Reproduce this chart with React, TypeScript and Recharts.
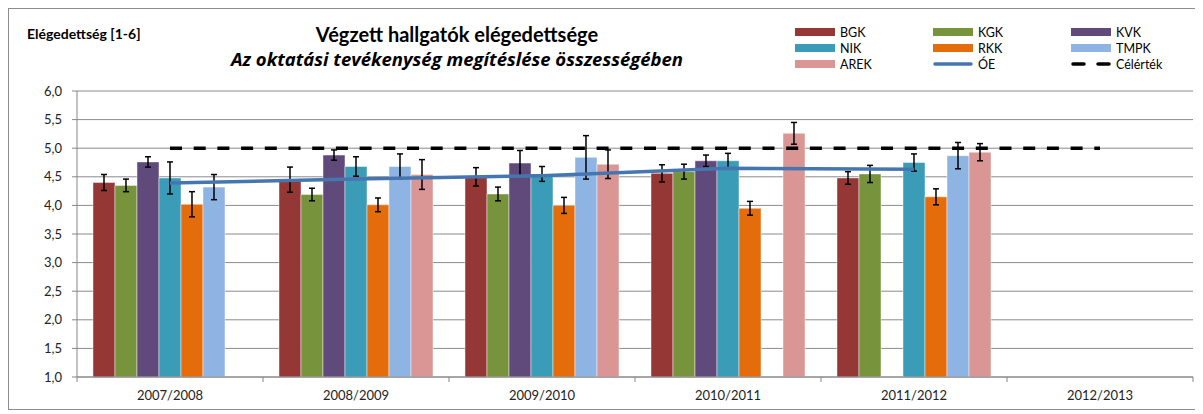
import React from 'react';
import { ComposedChart, Bar, Line, XAxis, YAxis, CartesianGrid, ErrorBar } from 'recharts';

const years = ['2007/2008', '2008/2009', '2009/2010', '2010/2011', '2011/2012', '2012/2013'];

const bgk = [4.40, 4.45, 4.50, 4.56, 4.48, null];
const bgkErr = [0.14, 0.22, 0.16, 0.15, 0.11, null];
const kgk = [4.35, 4.19, 4.20, 4.59, 4.55, null];
const kgkErr = [0.11, 0.11, 0.12, 0.13, 0.15, null];
const kvk = [4.76, 4.88, 4.74, 4.78, null, null];
const kvkErr = [0.09, 0.09, 0.22, 0.10, null, null];
const nik = [4.48, 4.68, 4.55, 4.78, 4.75, null];
const nikErr = [0.28, 0.17, 0.13, 0.13, 0.15, null];
const rkk = [4.02, 4.01, 4.00, 3.95, 4.15, null];
const rkkErr = [0.22, 0.12, 0.14, 0.12, 0.14, null];
const tmpk = [4.32, 4.68, 4.84, null, 4.87, null];
const tmpkErr = [0.22, 0.22, 0.38, null, 0.23, null];
const arek = [null, 4.54, 4.72, 5.26, 4.93, null];
const arekErr = [null, 0.26, 0.25, 0.19, 0.15, null];
const oe = [4.39, 4.46, 4.52, 4.65, 4.63, null];
const celertek = [5, 5, 5, 5, 5, 5];

const yTicks = [1, 1.5, 2, 2.5, 3, 3.5, 4, 4.5, 5, 5.5, 6];

const data = years.map((year, i) => ({
  year,
  BGK: bgk[i], bgkErr: bgkErr[i],
  KGK: kgk[i], kgkErr: kgkErr[i],
  KVK: kvk[i], kvkErr: kvkErr[i],
  NIK: nik[i], nikErr: nikErr[i],
  RKK: rkk[i], rkkErr: rkkErr[i],
  TMPK: tmpk[i], tmpkErr: tmpkErr[i],
  AREK: arek[i], arekErr: arekErr[i],
  OE: oe[i],
  cel: celertek[i],
}));

const bars = [
  { key: 'BGK', err: 'bgkErr', color: '#953735' },
  { key: 'KGK', err: 'kgkErr', color: '#77933C' },
  { key: 'KVK', err: 'kvkErr', color: '#604A7B' },
  { key: 'NIK', err: 'nikErr', color: '#3A9CB7' },
  { key: 'RKK', err: 'rkkErr', color: '#E46C0A' },
  { key: 'TMPK', err: 'tmpkErr', color: '#8EB4E3' },
  { key: 'AREK', err: 'arekErr', color: '#D99694' },
];

const font = 'Lato, "Open Sans", sans-serif';
const W = 1190;
const H = 400;
const M = { top: 82, right: 6, bottom: 2, left: 0 };
const Y_W = 68;
const HALF_BAND = (W - M.left - M.right - Y_W) / years.length / 2;

// legend order as in the reference: 3 columns
const legendItems = [
  { name: 'BGK', type: 'bar', color: '#953735' },
  { name: 'KGK', type: 'bar', color: '#77933C' },
  { name: 'KVK', type: 'bar', color: '#604A7B' },
  { name: 'NIK', type: 'bar', color: '#3A9CB7' },
  { name: 'RKK', type: 'bar', color: '#E46C0A' },
  { name: 'TMPK', type: 'bar', color: '#8EB4E3' },
  { name: 'AREK', type: 'bar', color: '#D99694' },
  { name: 'ÓE', type: 'line', color: '#4676B0' },
  { name: 'Célérték', type: 'dash', color: '#000' },
];

function Swatch({ type, color }: { type: string; color: string }) {
  return (
    <svg width={40} height={10} style={{ marginRight: 5, flex: 'none' }}>
      {type === 'bar' && <rect x={0} y={1} width={40} height={8} fill={color} />}
      {type === 'line' && <line x1={2} y1={5} x2={38} y2={5} stroke={color} strokeWidth={3.5} strokeLinecap="round" />}
      {type === 'dash' && <line x1={2} y1={5} x2={38} y2={5} stroke={color} strokeWidth={3.5} strokeLinecap="round" strokeDasharray="11 14" />}
    </svg>
  );
}

function LegendBox() {
  return (
    <div style={{ position: 'absolute', left: 786, top: 15, display: 'grid', gridTemplateColumns: '138px 138px 138px', fontFamily: font, fontSize: 12.5, color: '#000' }}>
      {legendItems.map((it) => (
        <div key={it.name} style={{ display: 'flex', alignItems: 'center', height: 16 }}>
          <Swatch type={it.type} color={it.color} />
          <span>{it.name}</span>
        </div>
      ))}
    </div>
  );
}

function XTick(props: any) {
  const { x, y, payload, index } = props;
  return (
    <g>
      <line x1={x - HALF_BAND} y1={y} x2={x - HALF_BAND} y2={y + 5} stroke="#868686" />
      {index === years.length - 1 && (
        <line x1={x + HALF_BAND} y1={y} x2={x + HALF_BAND} y2={y + 5} stroke="#868686" />
      )}
      <text x={x} y={y + 23} textAnchor="middle" fontSize={13} fontFamily={font} fill="#222">
        {payload.value}
      </text>
    </g>
  );
}

export default function App() {
  return (
    <div style={{ position: 'relative', width: W, height: H, border: '1px solid #8c8c8c', background: '#fff' }}>
      <div style={{ position: 'absolute', left: 18, top: 16, fontFamily: font, fontWeight: 700, fontSize: 14 }}>
        Elégedettség [1-6]
      </div>
      <div style={{ position: 'absolute', left: 148, width: 600, top: 14, textAlign: 'center', fontFamily: font, fontWeight: 700, fontSize: 20, lineHeight: '22px' }}>
        Végzett hallgatók elégedettsége
      </div>
      <div style={{ position: 'absolute', left: 148, width: 600, top: 39, textAlign: 'center', fontFamily: '"Open Sans", sans-serif', fontWeight: 700, fontStyle: 'italic', fontSize: 18.5, lineHeight: '22px' }}>
        Az oktatási tevékenység megítéslése összességében
      </div>
      <LegendBox />
      <ComposedChart width={W} height={H} data={data} margin={M} barCategoryGap="8.6%" barGap={0}>
        <CartesianGrid vertical={false} stroke="#8a8a8a" />
        <XAxis
          dataKey="year"
          stroke="#868686"
          tickLine={false}
          tickSize={0}
          tickMargin={0}
          height={30}
          interval={0}
          tick={<XTick />}
        />
        <YAxis
          domain={[1, 6]}
          ticks={yTicks}
          width={Y_W}
          stroke="#868686"
          tickSize={5}
          tickMargin={10}
          tick={{ fontSize: 13, fontFamily: font, fill: '#222' }}
          tickFormatter={(v: number) => v.toFixed(1).replace('.', ',')}
          allowDataOverflow
        />
        {bars.map((b) => (
          <Bar key={b.key} dataKey={b.key} fill={b.color} stroke="#ffffff" strokeOpacity={0.45} isAnimationActive={false}>
            <ErrorBar dataKey={b.err} width={3} stroke="#000" strokeWidth={1.5} direction="y" />
          </Bar>
        ))}
        <Line dataKey="OE" stroke="#4676B0" strokeWidth={3.5} dot={false} activeDot={false} isAnimationActive={false} />
        <Line dataKey="cel" stroke="#000" strokeWidth={3.5} strokeDasharray="12 11.7" dot={false} activeDot={false} isAnimationActive={false} />
      </ComposedChart>
    </div>
  );
}
